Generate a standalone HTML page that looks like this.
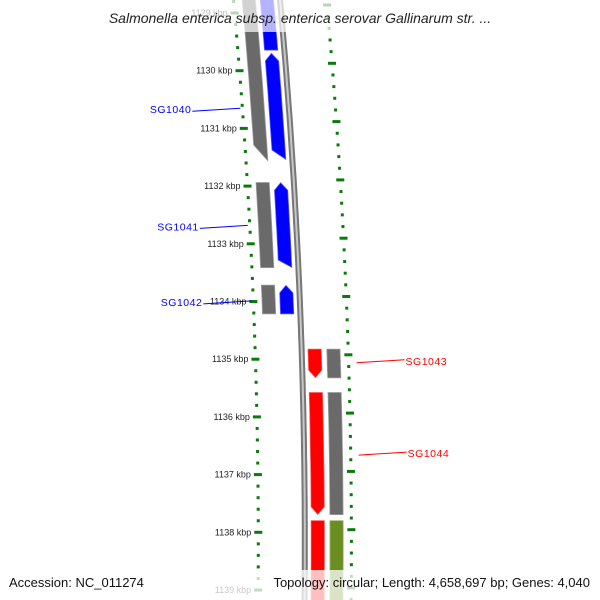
<!DOCTYPE html>
<html><head><meta charset="utf-8"><style>
html,body{margin:0;padding:0;background:#fff}
svg{display:block;font-family:"Liberation Sans",sans-serif}
</style></head><body>
<svg id="map" width="600" height="600" viewBox="0 0 600 600">
<g id="ticks"></g>
<g id="backbone"></g>
<g id="feats"></g>
<g id="labels"></g>
<rect x="0" y="0" width="600" height="32" fill="#fff" opacity="0.7"/>
<text x="300" y="23" text-anchor="middle" font-size="14" font-style="italic" fill="#222">Salmonella enterica subsp. enterica serovar Gallinarum str. ...</text>
<rect x="0" y="570" width="600" height="30" fill="#fff" opacity="0.75"/>
<text x="9" y="587" font-size="13" fill="#111">Accession: NC_011274</text>
<text x="590" y="587" font-size="13" text-anchor="end" fill="#111">Topology: circular; Length: 4,658,697 bp; Genes: 4,040</text>
</svg>
<script>
// data
const majorKbp = [1129,1130,1131,1132,1133,1134,1135,1136,1137,1138,1139];
const majorLabels = ["1129 kbp","1130 kbp","1131 kbp","1132 kbp","1133 kbp","1134 kbp","1135 kbp","1136 kbp","1137 kbp","1138 kbp","1139 kbp"];
const featStartKbp = [1128.70,1129.69,1128.70,1131.93,1131.93,1133.71,1133.71,1134.82,1134.82,1135.57,1135.57,1137.79,1137.79];
const featEndKbp   = [1129.65,1131.55,1131.58,1133.42,1133.42,1134.22,1134.22,1135.33,1135.33,1137.70,1137.70,1139.30,1139.30];
const featTrack    = ["blue","blue","lgray","blue","lgray","blue","lgray","red","rgray","red","rgray","red","olive"];
const featDir      = [0,-1,0,-1,0,-1,0,1,0,1,0,0,0];
const labelNames = ["SG1040","SG1041","SG1042","SG1043","SG1044"];
const labelKbp   = [1130.65,1132.68,1133.99,1135.01,1136.61];
const labelSide  = ["left","left","left","right","right"];

const NS="http://www.w3.org/2000/svg";
function yOf(k){return 13+(k-1129)*57.7;}
function curve(y){return 0.091*y-0.0000835*y*y;}
const trackA={blue:266.8,lgray:248.8,red:293,rgray:311.8,olive:311.8};
const colors={blue:"#0000ff",lgray:"#6a6a6a",red:"#ff0000",rgray:"#6a6a6a",olive:"#6b8e23"};
function mk(tag,attrs,parent){const e=document.createElementNS(NS,tag);for(const k in attrs)e.setAttribute(k,attrs[k]);parent.appendChild(e);return e;}

// ticks
const tg=document.getElementById('ticks');
for(let k=1128.6;k<=1139.4;k+=0.2){
  const kk=Math.round(k*10)/10;const y=yOf(kk);
  if(y<-5||y>605)continue;
  const major=Math.abs(kk-Math.round(kk))<0.01;
  const x=233.5+curve(y);
  const r=mk('rect',{x:(major?x-4:x-1.5),y:y-1.5,width:(major?8:3),height:3,fill:"#0a7a0a"},tg);
  
  
  // right ruler (offset half kbp)
  const yr=y-8;
  const majorR=Math.abs((kk-0.1)-Math.round(kk-0.1))<0.01 ? false : false;
}
for(let i=-1;i<52;i++){
  const y=5+i*11.66;if(y<0||y>600)continue;
  const major=i%5===0;
  const x=326.6+curve(y);
  const r=mk('rect',{x:(major?x-4:x-1.5),y:y-1.5,width:(major?8:3),height:3,fill:"#0a7a0a"},tg);
  
  
}
majorKbp.forEach((k,i)=>{
  const y=yOf(k);const x=233.5+curve(y);
  const t=mk('text',{x:x-7,y:y+3,"font-size":"9","text-anchor":"end",fill:"#222"},tg);
  t.textContent=majorLabels[i];
  
  
});

// backbone
const bg=document.getElementById('backbone');
let pts=[];for(let y=-5;y<=605;y+=10)pts.push((280+curve(y)).toFixed(1)+","+y);
const b1=mk('polyline',{points:pts.join(" "),fill:"none",stroke:"#777",'stroke-width':6},bg);


const b2=mk('polyline',{points:pts.join(" "),fill:"none",stroke:"#c8c8c8",'stroke-width':2},bg);



// features
const fg=document.getElementById('feats');
featStartKbp.forEach((s,i)=>{
  const y0=yOf(s),y1=yOf(featEndKbp[i]);const a=trackA[featTrack[i]];const w=14;
  const dir=featDir[i];const tip=8;
  const L=y=>a+curve(y)-w/2, R=y=>a+curve(y)+w/2;
  let top=dir<0?y0+tip:y0, bot=dir>0?y1-tip:y1;
  let p=[];
  for(let y=top;y<=bot;y+=(bot-top)/10)p.push([L(y),y]);
  if(dir>0)p.push([(L(y1)+R(y1))/2,y1]);
  for(let y=bot;y>=top-0.01;y-=(bot-top)/10)p.push([R(y),y]);
  if(dir<0)p.push([(L(y0)+R(y0))/2,y0]);
  const poly=mk('polygon',{points:p.map(q=>q[0].toFixed(1)+","+q[1].toFixed(1)).join(" "),fill:colors[featTrack[i]],stroke:"rgba(255,255,255,0.35)","stroke-width":1.5},fg);
  
  
});

// labels
const lg=document.getElementById('labels');
labelNames.forEach((n,i)=>{
  const y=yOf(labelKbp[i]);
  const left=labelSide[i]==="left";const col=left?"#0000ff":"#ff0000";
  let x1,x2,tx;
  if(left){x2=233.5+curve(y)-2;x1=x2-48;tx=x1-1;}
  else{x1=326.6+curve(y)+8;x2=x1+48;tx=x2+1;}
  const ln=mk('line',{x1:x1,y1:y+(left?3:3),x2:x2,y2:y,stroke:col,'stroke-width':1},lg);
  
  
  const t=mk('text',{x:tx,y:y+5,"font-size":"10.5","text-anchor":left?"end":"start",fill:col,"letter-spacing":"0.5"},lg);
  t.textContent=n;
  
  
});
</script>
</body></html>
